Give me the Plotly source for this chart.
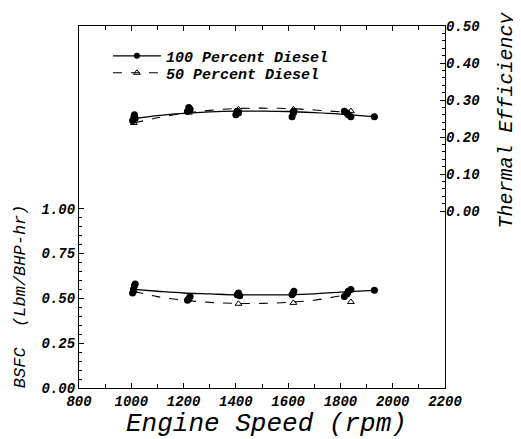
import plotly.graph_objects as go

# ---- data ----
# Thermal efficiency, 100 percent diesel (measured points)
te100_x = [1005, 1010, 1012, 1015, 1215, 1220, 1225, 1400, 1405, 1410,
           1615, 1620, 1622, 1815, 1825, 1830, 1840, 1930]
te100_y = [0.245, 0.255, 0.26, 0.25, 0.27, 0.28, 0.275, 0.26, 0.27, 0.265,
           0.255, 0.265, 0.27, 0.27, 0.265, 0.26, 0.255, 0.255]
# Thermal efficiency fitted curve, 100 percent diesel
te100_fit_x = [1010, 1100, 1200, 1300, 1400, 1500, 1600, 1700, 1800, 1930]
te100_fit_y = [0.25, 0.258, 0.264, 0.268, 0.27, 0.27, 0.269, 0.266, 0.262, 0.255]
# Thermal efficiency, 50 percent diesel
te50_x = [1010, 1220, 1410, 1620, 1840]
te50_y = [0.238, 0.266, 0.275, 0.275, 0.27]
te50_fit_x = [1010, 1100, 1200, 1300, 1400, 1500, 1600, 1700, 1840]
te50_fit_y = [0.238, 0.252, 0.264, 0.272, 0.277, 0.278, 0.277, 0.273, 0.266]

# BSFC, 100 percent diesel
bs100_x = [1005, 1008, 1012, 1015, 1215, 1220, 1225, 1405, 1410, 1415,
           1615, 1620, 1622, 1815, 1825, 1830, 1840, 1930]
bs100_y = [0.53, 0.55, 0.57, 0.58, 0.49, 0.50, 0.51, 0.52, 0.53, 0.515,
           0.52, 0.53, 0.54, 0.51, 0.525, 0.54, 0.55, 0.545]
bs100_fit_x = [1010, 1100, 1200, 1300, 1400, 1500, 1600, 1700, 1800, 1930]
bs100_fit_y = [0.55, 0.54, 0.53, 0.525, 0.52, 0.52, 0.52, 0.525, 0.535, 0.545]
# BSFC, 50 percent diesel
bs50_x = [1010, 1220, 1410, 1620, 1840]
bs50_y = [0.54, 0.495, 0.47, 0.475, 0.48]
bs50_fit_x = [1010, 1100, 1200, 1300, 1400, 1500, 1600, 1700, 1840]
bs50_fit_y = [0.54, 0.51, 0.49, 0.478, 0.472, 0.472, 0.478, 0.49, 0.525]

legend_names = ["100 Percent Diesel", "50 Percent Diesel"]
x_ticks = [800, 1000, 1200, 1400, 1600, 1800, 2000, 2200]
x_minor = [900, 1100, 1300, 1500, 1700, 1900, 2100]
left_ticks = [0.0, 0.25, 0.5, 0.75, 1.0]
left_minor = [i * 0.05 for i in range(21)]
right_ticks = [0.0, 0.1, 0.2, 0.3, 0.4, 0.5]
right_minor = [i * 0.02 for i in range(26)]

FONT = "Liberation Mono"
BLK = "black"

fig = go.Figure()

# fitted lines
fig.add_trace(go.Scatter(x=bs100_fit_x, y=bs100_fit_y, mode="lines", line=dict(color=BLK, width=1.3, shape="spline"), showlegend=False))
fig.add_trace(go.Scatter(x=bs50_fit_x, y=bs50_fit_y, mode="lines", line=dict(color=BLK, width=1.1, dash="dash", shape="spline"), showlegend=False))
fig.add_trace(go.Scatter(x=te100_fit_x, y=te100_fit_y, mode="lines", yaxis="y2", line=dict(color=BLK, width=1.3, shape="spline"), showlegend=False))
fig.add_trace(go.Scatter(x=te50_fit_x, y=te50_fit_y, mode="lines", yaxis="y2", line=dict(color=BLK, width=1.1, dash="dash", shape="spline"), showlegend=False))

# measured points
fig.add_trace(go.Scatter(x=bs50_x, y=bs50_y, mode="markers", marker=dict(symbol="triangle-up-open", size=6, color=BLK, line=dict(width=1)), showlegend=False))
fig.add_trace(go.Scatter(x=te50_x, y=te50_y, mode="markers", yaxis="y2", marker=dict(symbol="triangle-up-open", size=6, color=BLK, line=dict(width=1)), showlegend=False))
fig.add_trace(go.Scatter(x=bs100_x, y=bs100_y, mode="markers", marker=dict(symbol="circle", size=7, color=BLK), showlegend=False))
fig.add_trace(go.Scatter(x=te100_x, y=te100_y, mode="markers", yaxis="y2", marker=dict(symbol="circle", size=7, color=BLK), showlegend=False))

# legend entries (one per legend so rows can sit close together)
fig.add_trace(go.Scatter(x=[None], y=[None], mode="lines+markers", name=legend_names[0], legend="legend",
                         line=dict(color=BLK, width=1.3), marker=dict(symbol="circle", size=6, color=BLK)))
fig.add_trace(go.Scatter(x=[None], y=[None], mode="lines+markers", name=legend_names[1], legend="legend2",
                         line=dict(color=BLK, width=1.1, dash="dash"),
                         marker=dict(symbol="triangle-up-open", size=6, color=BLK, line=dict(width=1))))

xtickfont = dict(family=FONT, size=14, color=BLK, style="italic", weight="bold")
ytickfont = dict(family=FONT, size=14, color=BLK, style="italic", weight="bold")
legfont = dict(family=FONT, size=15, style="italic", weight="bold", color=BLK)

fig.update_layout(
    width=513, height=431,
    margin=dict(l=71, r=76, t=18, b=51),
    paper_bgcolor="white", plot_bgcolor="white",
    font=dict(family=FONT, color=BLK),
    showlegend=True,
    legend=dict(x=0.079, y=0.917, xanchor="left", yanchor="middle", bgcolor="rgba(0,0,0,0)",
                font=legfont, itemwidth=48, borderwidth=0),
    legend2=dict(x=0.079, y=0.870, xanchor="left", yanchor="middle", bgcolor="rgba(0,0,0,0)",
                 font=legfont, itemwidth=48, borderwidth=0),
    xaxis=dict(range=[800, 2200], tickmode="array", tickvals=x_ticks,
               ticktext=[str(v) for v in x_ticks],
               ticks="inside", ticklen=5, tickcolor=BLK, tickwidth=1,
               minor=dict(tickmode="array", tickvals=x_minor, ticks="inside", ticklen=4, tickcolor=BLK),
               showline=True, linecolor=BLK, linewidth=1.2, mirror="ticks",
               showgrid=False, zeroline=False, tickfont=xtickfont),
    yaxis=dict(range=[0, 2.02], tickmode="array", tickvals=left_ticks,
               ticktext=["%.2f" % v for v in left_ticks],
               ticks="inside", ticklen=5, tickcolor=BLK,
               minor=dict(tickmode="array", tickvals=left_minor, ticks="inside", ticklen=3, tickcolor=BLK),
               showline=True, linecolor=BLK, linewidth=1.2, mirror=True,
               showgrid=False, zeroline=False, tickfont=ytickfont),
    yaxis2=dict(range=[-0.478, 0.5], overlaying="y", side="right", tickmode="array",
                tickvals=right_ticks, ticktext=["%.2f" % v for v in right_ticks],
                ticks="inside", ticklen=5, tickcolor=BLK,
                minor=dict(tickmode="array", tickvals=right_minor, ticks="inside", ticklen=3, tickcolor=BLK),
                showline=False, showgrid=False, zeroline=False, tickfont=ytickfont),
    annotations=[
        dict(text="BSFC  (Lbm/BHP-hr)", xref="paper", yref="paper", x=-0.161, y=0.254,
             xanchor="center", yanchor="middle",
             textangle=-90, showarrow=False, font=dict(family=FONT, size=17, style="italic", color=BLK)),
        dict(text="Thermal Efficiency", xref="paper", yref="paper", x=1.168, y=0.740,
             xanchor="center", yanchor="middle",
             textangle=-90, showarrow=False, font=dict(family=FONT, size=20, style="italic", color=BLK)),
        dict(text="Engine Speed (rpm)", xref="paper", yref="paper", x=0.511, y=-0.1008,
             xanchor="center", yanchor="middle",
             showarrow=False, font=dict(family=FONT, size=26, style="italic", color=BLK)),
    ],
)

fig.write_html("out.html")
